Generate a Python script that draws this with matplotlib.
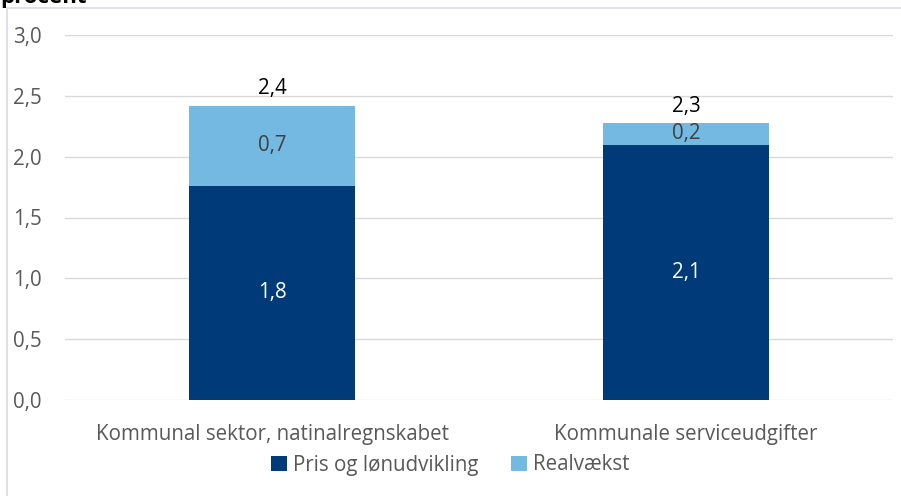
import matplotlib
matplotlib.use("Agg")
import matplotlib.pyplot as plt
from matplotlib.patches import Rectangle
import numpy as np

categories = ["Kommunal sektor, natinalregnskabet", "Kommunale serviceudgifter"]
pris = [1.76, 2.10]
real = [0.66, 0.18]
pris_labels = ["1,8", "2,1"]
real_labels = ["0,7", "0,2"]
total_labels = ["2,4", "2,3"]
yticks = [0.0, 0.5, 1.0, 1.5, 2.0, 2.5, 3.0]
ytick_labels = ["0,0", "0,5", "1,0", "1,5", "2,0", "2,5", "3,0"]

plt.rcParams['font.family'] = ['Open Sans', 'DejaVu Sans']

W, H = 901, 496
fig = plt.figure(figsize=(W/100, H/100), dpi=100)
ax = fig.add_axes([65/W, 1-400/H, (893-65)/W, (400-35)/H])

x = np.arange(len(categories))
dark = "#003A78"
light = "#74B9E2"
fs = 14.8
ax.bar(x, pris, width=0.4, color=dark, label="Pris og lønudvikling", zorder=3)
ax.bar(x, real, width=0.4, bottom=pris, color=light, label="Realvækst", zorder=3)

for i in range(len(x)):
    ax.text(x[i], pris[i]/2, pris_labels[i], ha='center', va='center', color='white', fontsize=fs, zorder=4)
    ax.text(x[i], pris[i]+real[i]/2, real_labels[i], ha='center', va='center', color='#404040', fontsize=fs, zorder=4)
    ax.text(x[i], pris[i]+real[i]+0.05, total_labels[i], ha='center', va='bottom', color='black', fontsize=fs, zorder=4)

ax.set_xlim(-0.5, 1.5)
ax.set_ylim(0, 3.0)
ax.set_yticks(yticks)
ax.set_yticklabels(ytick_labels, fontsize=fs, color='#595959')
ax.set_xticks(x)
ax.set_xticklabels(categories, fontsize=fs, color='#595959')
ax.tick_params(axis='x', length=0, pad=17)
ax.tick_params(axis='y', length=0, pad=17)
for s in ax.spines.values():
    s.set_visible(False)
ax.grid(axis='y', color='#D9D9D9', linewidth=1, zorder=0)
ax.set_axisbelow(True)

leg = fig.legend(loc='center', bbox_to_anchor=(0.5, 1-465/H), ncol=2, frameon=False,
                 fontsize=fs, handlelength=0.75, handleheight=0.75, handletextpad=0.3,
                 columnspacing=1.6, labelcolor='#595959')

fig.patches.append(Rectangle((7/W, -0.1), 1.2, 1-8/H+0.1, transform=fig.transFigure,
                             fill=False, edgecolor='#D9D9E8', linewidth=1.2))
fig.text(0/W, 1-3/H, "procent", fontsize=16, fontweight='bold', ha='left', va='baseline', color='black')

fig.savefig("out.png", dpi=100)
